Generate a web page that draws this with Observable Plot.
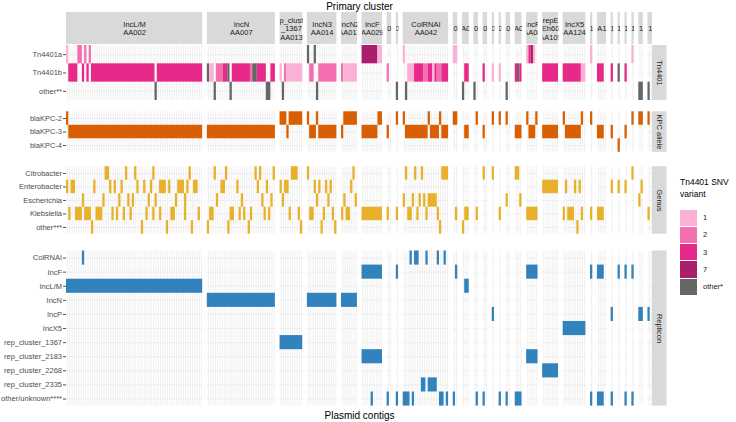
<!DOCTYPE html>
<html><head><meta charset="utf-8">
<script src="https://cdn.jsdelivr.net/npm/d3@7"></script>
<script src="https://cdn.jsdelivr.net/npm/@observablehq/plot@0.6"></script>
<style>
body{margin:0;background:#fff;}
#wrap{position:relative;width:736px;height:422px;font-family:"Liberation Sans",Arial,sans-serif;}
#legend{position:absolute;left:680px;top:177px;font-family:"Liberation Sans",Arial,sans-serif;white-space:nowrap;}
#legend .t{font-size:8.5px;line-height:11.5px;color:#000;margin-bottom:9px;white-space:nowrap;}
#legend .k{display:flex;align-items:center;height:17.3px;}
#legend .s{width:17px;height:16.3px;margin-right:6px;}
#legend .l{font-size:7.5px;color:#1a1a1a;}
</style>
</head><body><div id="wrap"></div>
<script>
// ---- primary clusters (facet columns); tiny clusters show only the visible fragment of their clipped label ----
const clusterLabels = ["IncL/M\nAA002","IncN\nAA007","rep_cluster\n_1367\nAA013","IncN3\nAA014","IncN2\nAA017","IncF\nAA029","0","0","ColRNAI\nAA042","0","A0","0","0","0","0","0","A0","IncF\nAA08","repE\nEh60\nAA105","IncX5\nAA124","1","A1","1","1","1","1","1","1"];
const clusterSizes = [60,30,10,13,7,9,2,1,20,2,3,2,2,1,1,2,3,5,7,10,1,4,1,1,1,1,2,2];

// ---- row categories ----
const tn4401Rows = ["Tn4401a","Tn4401b","other**"];
const kpcRows = ["blaKPC-2","blaKPC-3","blaKPC-4"];
const genusRows = ["Citrobacter","Enterobacter","Escherichia","Klebsiella","other***"];
const repliconRows = ["ColRNAI","IncF","IncL/M","IncN","IncP","IncX5","rep_cluster_1367","rep_cluster_2183","rep_cluster_2268","rep_cluster_2335","other/unknown****"];

// ---- presence per row: "cluster:contigs[=SNV variant]" ----
const tn4401Spec = [
 "1:0=1,5-6=2,8=2,10=2; 4:0=o,3=o; 6:0-6=7,7-8=1; 9:0=1; 10:0-1=1; 18:0=1,1=3,2=7,3=1; 21:0=1; 26:0=1",
 "1:1-4=3,7=3,9=3,11-38=3,40-59=3; 2:0=o,1-2=1,4-6=2,7-8=3,9=o,11-18=3,19=2,20-21=o,22-25=3,28-29=3; 3:0=1,2=2,3-9=1; 4:1-2=2,5-12=2; 5:0=2,1-6=1; 7:0=2; 9:2-4=1,5-8=3,9-10=2,11-12=3,13=1,14=3,15-16=2,17-19=3; 11:1-2=3; 13:0=3; 14:0=1; 15:0=1; 17:0=3,1=o,2=3; 19:0-6=3; 20:0-7=3,8-9=1; 22:0-2=3; 23:0=3; 24:0=o; 25:0=3",
 "1:39=o; 2:3=o,10=o,26-27=o; 3:1=o; 4:4=o; 8:0=o; 9:1=o; 11:0=o; 12:0=o; 16:0=o; 27:0-1=o; 28:0=o"
];
const kpcSpec = [
 "1:0; 3:0-2,4-9; 4:0,4; 5:1-6; 6:7-8; 8:0; 9:0,11,16; 10:0-1; 12:1; 14:0; 15:0; 16:0; 18:0,4; 20:0,8; 21:0; 26:0; 27:0-1; 28:0",
 "1:1-59; 2:0-29; 3:3; 4:1-3,5-12; 5:0; 6:0-6; 7:0; 9:1-10,12-15,17-19; 11:1-2; 13:0; 17:0-2; 18:1-3; 19:0-6; 20:1-7; 22:0-2; 23:0; 25:0",
 "24:0"
];
const genusSpec = [
 "1:17-18,26,30,38,54; 2:3,8,21,23,29; 3:5-7; 4:0; 5:5; 9:1,5,8,17-19; 13:0; 14:0; 17:0-1; 26:0",
 "1:0,2-3,12,19,21,24,31,34,37,41-43,45,49-51,53,56-57; 2:6-7,13,22,26; 3:0,2-3; 4:3,5,8,10; 5:4; 19:0-6; 20:1,5,7; 23:0; 24:0; 25:0; 27:1",
 "1:7,16,23,27,29,36,39,48,52; 2:4,15,24,28; 3:1; 4:4,9; 5:1,6; 9:0,4,7,9,11-14; 16:0; 17:2; 27:0",
 "1:1,4-6,8-10,13-15,20,22,25,28,35,38,41,46-47,52,58; 2:1-2,10-11,14,16,19,25,27; 3:4,8; 4:1-2,7,11; 5:0,2-3; 6:0-8; 7:0; 8:0; 9:2-3,6,10,15; 10:1; 11:1-2; 12:1; 15:0; 18:0-4; 20:0,2-4,8; 21:0; 22:0-2; 28:0",
 "1:11,33,44,55; 2:0,9,18; 3:9; 4:6,12; 9:16; 11:0; 20:6"
];
const repliconSpec = [
 "1:7; 9:3,5-6,10,15,18",
 "6:0-8; 8:0; 10:1; 18:0-4; 21:0; 22:0-2; 24:0; 25:0; 26:0",
 "1:0-59; 11:1-2",
 "2:0-29; 4:0-12; 5:0-6",
 "14:0; 23:0; 27:0-1; 28:0",
 "20:0-9",
 "3:0-9",
 "6:0-8; 18:0-4",
 "19:0-6",
 "9:8-9,11-14",
 "6:4; 7:0; 8:0; 9:0-2,4,16-17,19; 10:0; 12:1; 13:0; 15:0; 16:0; 17:0-2; 21:0; 22:0-2; 23:0; 25:0; 26:0"
];

// ---- colours ----
const legendKeys = ["1","2","3","7","other*"];
const legendColors = ["#FBB1D6","#F46FAF","#E7298A","#AA1F6C","#666666"];
const groupNames = ["Tn4401","KPC allele","Genus","Replicon"];
const groupColors = [null,"#D95F02","#E9B02A","#3182BD"];

// ---- layout ----
const W = 736, H = 422, left = 66, right = 652;
const pxPerUnit = 2.27, gapPx = 4.64;
const gapUnits = gapPx / pxPerUnit;
let cum = 0;
const panels = clusterSizes.map((n, i) => { const start = cum + i * gapUnits; cum += n; return {i, label: clusterLabels[i], n, start, end: start + n}; });
const totalUnits = panels[panels.length - 1].end;
const stripTop = 12, stripBottom = 44;
const groupLayout = [
  {rows: tn4401Rows, spec: tn4401Spec, rowH: 18.33, gapBefore: 45},
  {rows: kpcRows, spec: kpcSpec, rowH: 13.5, gapBefore: 11.3},
  {rows: genusRows, spec: genusSpec, rowH: 13.5, gapBefore: 14.4},
  {rows: repliconRows, spec: repliconSpec, rowH: 14.1, gapBefore: 16.8}
];
let yCur = 0;
const groups = groupLayout.map((g, gi) => {
  const top = yCur + g.gapBefore; const bottom = top + g.rows.length * g.rowH; yCur = bottom;
  return {...g, gi, name: groupNames[gi], top, bottom};
});

function parseSpec(spec) {
  const out = [];
  spec.split(";").map(s => s.trim()).filter(s => s).forEach(seg => {
    const [p, items] = seg.split(":");
    items.split(",").forEach(it => {
      const [range, code] = it.trim().split("=");
      const [a, b] = range.split("-").map(Number);
      out.push({panel: +p - 1, a, b: b === undefined ? a : b, code: code || "x"});
    });
  });
  return out;
}
const codeKey = {"1": "1", "2": "2", "3": "3", "7": "7", "o": "other*"};

const tiles = [], vGrid = [], hGrid = [], ticks = [], tickLabel = new Map();
groups.forEach(g => {
  g.rows.forEach((rowName, r) => {
    const y1 = g.top + r * g.rowH, y2 = y1 + g.rowH, yc = (y1 + y2) / 2;
    ticks.push(yc); tickLabel.set(yc.toFixed(2), rowName);
    panels.forEach(p => hGrid.push({x1: p.start, x2: p.end, y: yc}));
    parseSpec(g.spec[r]).forEach(t => {
      const p = panels[t.panel];
      tiles.push({x1: p.start + t.a, x2: p.start + t.b + 1, y1, y2, key: g.gi === 0 ? codeKey[t.code] : g.name});
    });
  });
  panels.forEach(p => { for (let c = 0; c < p.n; c++) vGrid.push({x: p.start + c + 0.5, y1: g.top, y2: g.bottom}); });
});

const stripW = 14.5 / pxPerUnit;
const font = "Liberation Sans, Arial, sans-serif";

const plot = Plot.plot({
  width: W, height: H,
  marginLeft: left, marginRight: W - right, marginTop: 0, marginBottom: 0,
  style: {fontFamily: font, fontSize: "7.5px", color: "#4D4D4D", background: "#fff"},
  x: {domain: [0, totalUnits], axis: null},
  y: {domain: [0, H], range: [0, H], ticks: ticks, tickFormat: d => tickLabel.get((+d).toFixed(2)), tickSize: 3, tickPadding: 1.5, label: null},
  color: {domain: [...legendKeys, ...groupNames.slice(1)], range: [...legendColors, ...groupColors.slice(1)]},
  marks: [
    Plot.ruleX(vGrid, {x: "x", y1: "y1", y2: "y2", stroke: "#E3E3E3", strokeWidth: 0.55}),
    Plot.ruleY(hGrid, {x1: "x1", x2: "x2", y: "y", stroke: "#E3E3E3", strokeWidth: 0.55}),
    Plot.rect(tiles, {x1: "x1", x2: "x2", y1: "y1", y2: "y2", fill: "key"}),
    Plot.rect(panels, {x1: "start", x2: "end", y1: stripTop, y2: stripBottom, fill: "#D9D9D9"}),
    Plot.text(panels, {x: d => (d.start + d.end) / 2, y: (stripTop + stripBottom) / 2, text: "label", lineAnchor: "middle", lineHeight: 1.13, fontSize: 7.5, fill: "#1A1A1A", ariaDescription: "strip-labels"}),
    Plot.rect(groups, {x1: totalUnits, x2: totalUnits + stripW, y1: "top", y2: "bottom", fill: "#D9D9D9"}),
    Plot.text(groups, {x: totalUnits + stripW / 2, y: d => (d.top + d.bottom) / 2, text: "name", rotate: 90, fontSize: 7.5, fill: "#1A1A1A"}),
    Plot.text(["Primary cluster"], {frameAnchor: "top", dy: 6, lineAnchor: "middle", fontSize: 10, fill: "#000"}),
    Plot.text(["Plasmid contigs"], {frameAnchor: "bottom", dy: -7, lineAnchor: "middle", fontSize: 10, fill: "#000"})
  ]
});

// clip each strip label to its strip, as in the reference
(function clipStrips() {
  const svg = plot.tagName.toLowerCase() === "svg" ? plot : plot.querySelector("svg");
  const ns = "http://www.w3.org/2000/svg";
  let defs = svg.querySelector("defs");
  if (!defs) { defs = document.createElementNS(ns, "defs"); svg.insertBefore(defs, svg.firstChild); }
  let g = svg.querySelector('g[aria-description="strip-labels"]');
  if (!g) g = Array.from(svg.querySelectorAll("g")).find(e => e.querySelectorAll(":scope > text").length === panels.length);
  if (!g) return;
  const X = v => left + v * (right - left) / totalUnits;
  Array.from(g.querySelectorAll(":scope > text")).forEach((t, i) => {
    const p = panels[i];
    const cp = document.createElementNS(ns, "clipPath"); cp.setAttribute("id", "stripclip" + i);
    const r = document.createElementNS(ns, "rect");
    r.setAttribute("x", X(p.start)); r.setAttribute("width", X(p.end) - X(p.start));
    r.setAttribute("y", stripTop); r.setAttribute("height", stripBottom - stripTop);
    cp.appendChild(r); defs.appendChild(cp);
    const w = document.createElementNS(ns, "g"); w.setAttribute("clip-path", "url(#stripclip" + i + ")");
    t.parentNode.insertBefore(w, t); w.appendChild(t);
  });
})();

const wrap = document.getElementById("wrap");
wrap.appendChild(plot);
const lg = document.createElement("div"); lg.id = "legend";
lg.innerHTML = '<div class="t">Tn4401 SNV<br>variant</div>' + legendKeys.map((k, i) => `<div class="k"><div class="s" style="background:${legendColors[i]}"></div><div class="l">${k}</div></div>`).join("");
wrap.appendChild(lg);
</script>
</body></html>
